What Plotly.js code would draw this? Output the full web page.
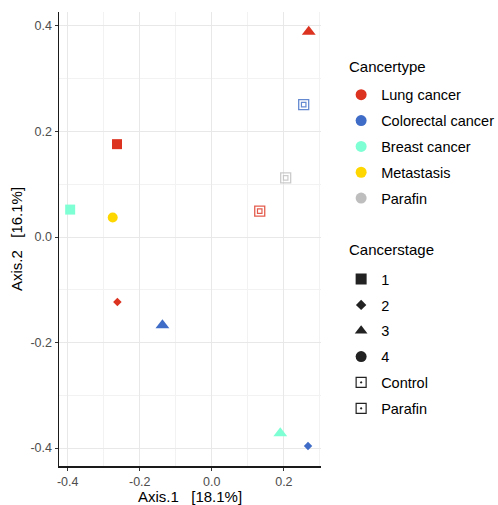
<!DOCTYPE html>
<html>
<head>
<meta charset="utf-8">
<script src="https://cdn.plot.ly/plotly-3.0.1.min.js"></script>
<style>html,body{margin:0;padding:0;background:#fff;}#chart{width:498px;height:505px;}</style>
</head>
<body>
<div id="chart"></div>
<script>
// ---- data ----
const axis1 = [0.269, 0.255, -0.263, 0.205, 0.133, -0.393, -0.275, -0.262, -0.137, 0.190, 0.267];
const axis2 = [0.389, 0.251, 0.176, 0.112, 0.049, 0.052, 0.037, -0.123, -0.167, -0.372, -0.396];
const cancertype = ["Lung cancer","Colorectal cancer","Lung cancer","Parafin","Lung cancer","Breast cancer","Metastasis","Lung cancer","Colorectal cancer","Breast cancer","Colorectal cancer"];
const cancerstage = ["3","Control","1","Parafin","Control","1","4","2","3","3","2"];
const typeLevels = ["Lung cancer","Colorectal cancer","Breast cancer","Metastasis","Parafin"];
const stageLevels = ["1","2","3","4","Control","Parafin"];
const xTickVals = [-0.4, -0.2, 0.0, 0.2];
const xTickText = ["-0.4", "-0.2", "0.0", "0.2"];
const yTickVals = [-0.4, -0.2, 0.0, 0.2, 0.4];
const yTickText = ["-0.4", "-0.2", "0.0", "0.2", "0.4"];

// ---- styles ----
const typeColors = {"Lung cancer":"#DC3220","Colorectal cancer":"#3E6CC6","Breast cancer":"#7FFFD4","Metastasis":"#FFD700","Parafin":"#BEBEBE"};
const stageSymbols = {"1":"square","2":"diamond","3":"triangle-up","4":"circle","Control":"square-open","Parafin":"square-open"};
const stageSizes = {"1":10,"2":6.5,"3":12,"4":10,"Control":10,"Parafin":10};

const traces = [];
// data points
for (let i = 0; i < axis1.length; i++) {
  const st = cancerstage[i];
  const col = typeColors[cancertype[i]];
  const open = st === "Control" || st === "Parafin";
  traces.push({
    type: "scatter", mode: "markers",
    x: [axis1[i]], y: [axis2[i]],
    showlegend: false, hoverinfo: "skip",
    marker: {
      symbol: stageSymbols[st], size: stageSizes[st], color: col,
      opacity: open ? 0.8 : 1,
      line: {width: open ? 1.3 : 0, color: col}
    }
  });
  if (open) {
    traces.push({
      type: "scatter", mode: "markers",
      x: [axis1[i]], y: [axis2[i]],
      showlegend: false, hoverinfo: "skip",
      marker: {symbol: "square-open", size: 4.5, color: col, opacity: 0.8, line: {width: 1.2, color: col}}
    });
  }
}
// legend: cancertype
typeLevels.forEach((t, k) => {
  traces.push({
    type: "scatter", mode: "markers", x: [null], y: [null],
    name: t, legend: "legend", legendgroup: "t" + k,
    marker: {symbol: "circle", size: 11, color: typeColors[t]}
  });
});
// legend: cancerstage
stageLevels.forEach((s, k) => {
  const open = s === "Control" || s === "Parafin";
  traces.push({
    type: "scatter", mode: "markers", x: [null], y: [null],
    name: s, legend: "legend2", legendgroup: "s" + k,
    marker: {symbol: open ? "square-open-dot" : stageSymbols[s], size: open ? 10 : (s === "2" ? 8 : 11), color: "#222",
      line: {width: open ? 1.2 : 0, color: "#222"}}
  });
});

const fam = "Liberation Sans, Arial, sans-serif";
const layout = {
  width: 498, height: 505,
  margin: {l: 59, r: 177, t: 12, b: 39},
  paper_bgcolor: "#fff", plot_bgcolor: "#fff",
  font: {family: fam, size: 14.5, color: "#1a1a1a"},
  showlegend: true,
  xaxis: {
    range: [-0.424, 0.303],
    tickvals: xTickVals, ticktext: xTickText,
    showgrid: true, gridcolor: "#E8E8E8", gridwidth: 1,
    minor: {dtick: 0.1, tick0: 0, showgrid: true, gridcolor: "#F2F2F2", gridwidth: 1, ticks: ""},
    zeroline: false,
    showline: true, linecolor: "#1a1a1a", linewidth: 1.5,
    ticks: "outside", ticklen: 3, tickcolor: "#333", tickwidth: 1,
    tickfont: {size: 12.5, color: "#4D4D4D"},
    title: {text: "Axis.1\u00a0\u00a0\u00a0[18.1%]", font: {size: 15, color: "#000"}, standoff: 2}
  },
  yaxis: {
    range: [-0.434, 0.4265],
    tickvals: yTickVals, ticktext: yTickText,
    showgrid: true, gridcolor: "#E8E8E8", gridwidth: 1,
    minor: {dtick: 0.1, tick0: 0, showgrid: true, gridcolor: "#F2F2F2", gridwidth: 1, ticks: ""},
    zeroline: false,
    showline: true, linecolor: "#1a1a1a", linewidth: 1.5,
    ticks: "outside", ticklen: 3, tickcolor: "#333", tickwidth: 1,
    tickfont: {size: 12.5, color: "#4D4D4D"},
    title: {text: "Axis.2\u00a0\u00a0\u00a0[16.1%]", font: {size: 15, color: "#000"}, standoff: 4}
  },
  legend: {
    xref: "container", yref: "container",
    x: 0.685, xanchor: "left", y: 0.844, yanchor: "top",
    font: {size: 14.5, color: "#000"},
    traceorder: "grouped", tracegroupgap: 4,
    bgcolor: "rgba(0,0,0,0)", itemclick: false, itemdoubleclick: false
  },
  legend2: {
    xref: "container", yref: "container",
    x: 0.685, xanchor: "left", y: 0.479, yanchor: "top",
    font: {size: 14.5, color: "#000"},
    traceorder: "grouped", tracegroupgap: 4,
    bgcolor: "rgba(0,0,0,0)", itemclick: false, itemdoubleclick: false
  },
  annotations: [
    {text: "Cancertype", xref: "paper", yref: "paper", x: 1.099, y: 0.881, xanchor: "left", yanchor: "middle", showarrow: false, font: {size: 15, color: "#000"}},
    {text: "Cancerstage", xref: "paper", yref: "paper", x: 1.099, y: 0.4758, xanchor: "left", yanchor: "middle", showarrow: false, font: {size: 15, color: "#000"}}
  ]
};
Plotly.newPlot("chart", traces, layout, {displayModeBar: false, staticPlot: true});
</script>
</body>
</html>
